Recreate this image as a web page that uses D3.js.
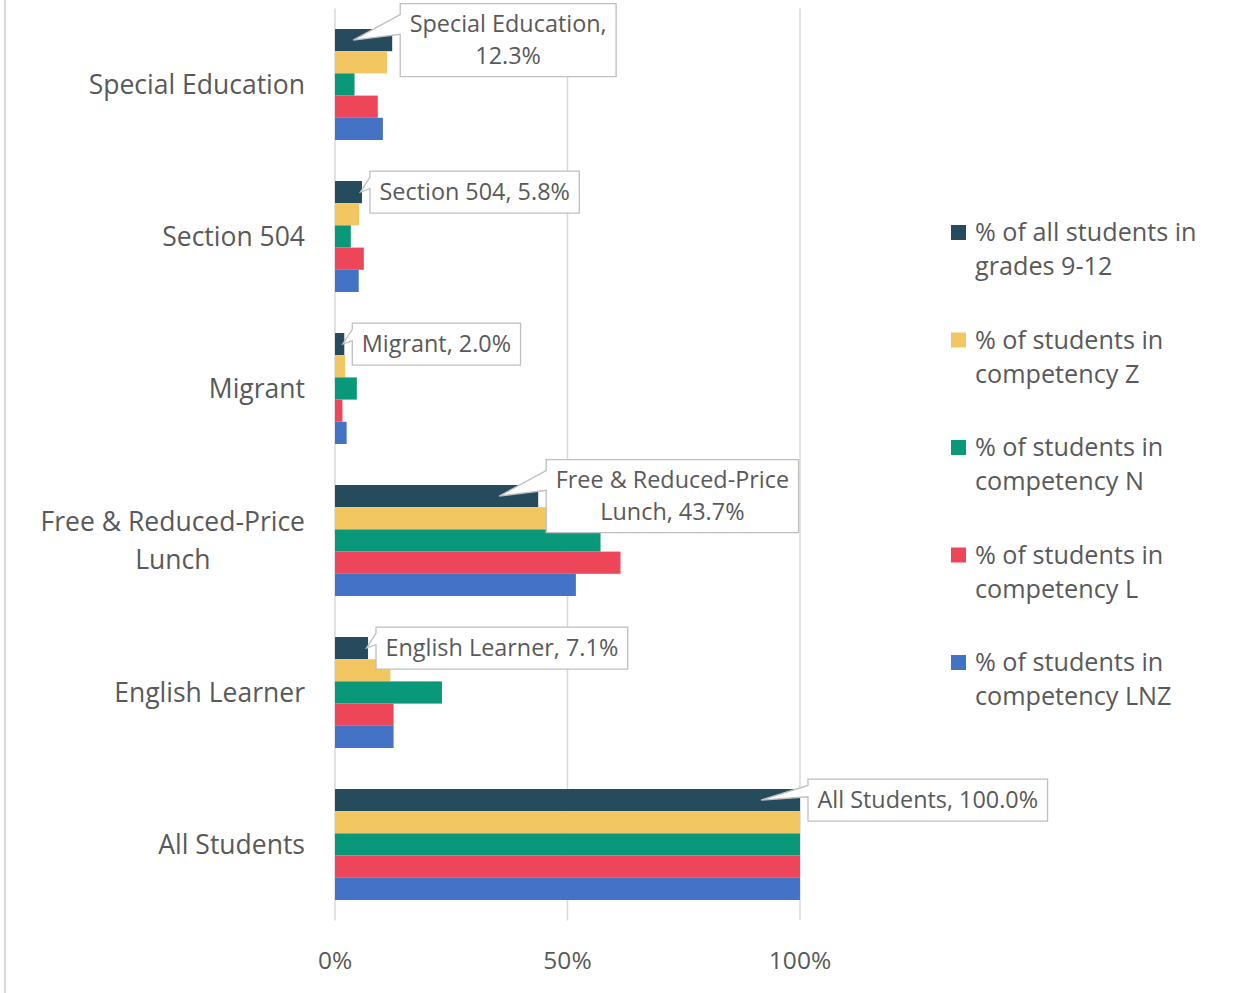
<!DOCTYPE html>
<html>
<head>
<meta charset="utf-8">
<script src="https://cdn.jsdelivr.net/npm/d3@7"></script>
<style>
  body { margin: 0; background: #fff; }
  svg { display: block; font-family: "Open Sans", "Noto Sans", sans-serif; }
</style>
</head>
<body>
<div id="chart"></div>
<script>
// categories (top to bottom) and series
const categories = ["Special Education", "Section 504", "Migrant",
  "Free & Reduced-Price Lunch", "English Learner", "All Students"];
const seriesNames = ["% of all students in grades 9-12", "% of students in competency Z",
  "% of students in competency N", "% of students in competency L",
  "% of students in competency LNZ"];
const seriesColors = ["#264B5D", "#F2C661", "#0A987A", "#EE4659", "#4472C4"];

const allGrades = [12.3, 5.8, 2.0, 43.7, 7.1, 100.0];
const compZ     = [11.2, 5.2, 2.2, 47.5, 11.9, 100.0];
const compN     = [4.2, 3.4, 4.7, 57.1, 23.0, 100.0];
const compL     = [9.2, 6.2, 1.6, 61.4, 12.6, 100.0];
const compLNZ   = [10.3, 5.1, 2.5, 51.8, 12.6, 100.0];
const xTicks = [0, 50, 100];

const seriesValues = [allGrades, compZ, compN, compL, compLNZ];

const W = 1253, H = 993;
const margin = { top: 8.5, left: 335, right: 453, bottom: 72.5 };
const width = W - margin.left - margin.right;   // 465
const height = H - margin.top - margin.bottom;  // 912
const textColor = "#595959";

const svg = d3.select("#chart").append("svg")
  .attr("width", W).attr("height", H);

// chart border (only left edge visible)
svg.append("line")
  .attr("x1", 5).attr("x2", 5).attr("y1", 0).attr("y2", H)
  .attr("stroke", "#d9d9d9").attr("stroke-width", 2);

const g = svg.append("g").attr("transform", `translate(${margin.left},${margin.top})`);

const x = d3.scaleLinear().domain([0, 100]).range([0, width]);
const y = d3.scaleBand().domain(categories).range([0, height])
  .paddingInner(0.27).paddingOuter(0.135);
const yInner = d3.scaleBand().domain(seriesNames).range([0, y.bandwidth()]);

// gridlines
g.append("g").selectAll("line").data(xTicks).join("line")
  .attr("x1", d => x(d)).attr("x2", d => x(d))
  .attr("y1", 0).attr("y2", height)
  .attr("stroke", "#d9d9d9").attr("stroke-width", 1.5);

// tick labels
g.append("g").selectAll("text").data(xTicks).join("text")
  .attr("x", d => x(d)).attr("y", height + 42)
  .attr("text-anchor", "middle").attr("dominant-baseline", "middle")
  .attr("fill", textColor).style("font-size", "24.5px")
  .text(d => d + "%");

// bars
const groups = g.selectAll(".grp").data(categories).join("g")
  .attr("class", "grp")
  .attr("transform", c => `translate(0,${y(c)})`);

groups.selectAll("rect")
  .data((c, i) => seriesNames.map((s, k) => ({ s, k, v: seriesValues[k][i] })))
  .join("rect")
  .attr("x", 0)
  .attr("y", d => yInner(d.s))
  .attr("width", d => x(d.v))
  .attr("height", yInner.bandwidth())
  .attr("fill", d => seriesColors[d.k]);

// wrap helper: greedy by word
function wrapWords(text, maxW, fontSize) {
  const tmp = svg.append("text").style("font-size", fontSize + "px");
  const words = text.split(" ");
  const lines = [];
  let cur = "";
  words.forEach(w => {
    const trial = cur ? cur + " " + w : w;
    tmp.text(trial);
    if (tmp.node().getComputedTextLength() > maxW && cur) {
      lines.push(cur);
      cur = w;
    } else cur = trial;
  });
  lines.push(cur);
  const widths = lines.map(l => { tmp.text(l); return tmp.node().getComputedTextLength(); });
  tmp.remove();
  return { lines, maxWidth: d3.max(widths) };
}

// category labels
const catFont = 26.5, catLH = 37.5;
categories.forEach(c => {
  const wr = wrapWords(c, 290, catFont);
  const cy = y(c) + y.bandwidth() / 2;
  const t = g.append("text")
    .attr("fill", textColor).style("font-size", catFont + "px")
    .attr("text-anchor", "middle");
  const cx = -30 - wr.maxWidth / 2;
  wr.lines.forEach((l, i) => {
    t.append("tspan")
      .attr("x", cx)
      .attr("y", cy + (i - (wr.lines.length - 1) / 2) * catLH)
      .attr("dy", "0.35em")
      .text(l);
  });
});

// data callouts for first series
const lblFont = 23.4, lblLH = 32, padX = 9.5;
categories.forEach((c, i) => {
  const v = allGrades[i];
  const label = `${c}, ${v.toFixed(1)}%`;
  const wr = wrapWords(label, 252, lblFont);
  const end = x(v);
  const cy = y(c) + yInner(seriesNames[0]) + yInner.bandwidth() / 2;
  const bw = wr.maxWidth + padX * 2;
  const bh = wr.lines.length === 1 ? 42 : 73;
  const left = end + 8, top = cy - bh / 2, right = left + bw, bottom = top + bh;
  const tipX = (end > 45) ? end - 39 : end - 1.5;
  const wTop = top + bh * 0.15, wBot = top + bh * 0.42;
  const path = `M${left},${top}H${right}V${bottom}H${left}V${wBot}L${tipX},${cy}L${left},${wTop}Z`;
  g.append("path").attr("d", path)
    .attr("fill", "#fff").attr("stroke", "#bfbfbf").attr("stroke-width", 1.3);
  const t = g.append("text").attr("fill", textColor)
    .style("font-size", lblFont + "px").attr("text-anchor", "middle");
  wr.lines.forEach((l, k) => {
    t.append("tspan")
      .attr("x", left + bw / 2)
      .attr("y", cy + (k - (wr.lines.length - 1) / 2) * lblLH)
      .attr("dy", "0.35em")
      .text(l);
  });
});

// legend
const legend = svg.append("g").attr("transform", "translate(951,225)");
const legFont = 25.2, legLH = 34, legStep = 107.5;
seriesNames.forEach((s, i) => {
  const gy = i * legStep;
  legend.append("rect")
    .attr("x", 0).attr("y", gy).attr("width", 15).attr("height", 15)
    .attr("fill", seriesColors[i]);
  const wr = wrapWords(s, 235, legFont);
  const t = legend.append("text").attr("fill", textColor).style("font-size", legFont + "px");
  wr.lines.forEach((l, k) => {
    t.append("tspan").attr("x", 24).attr("y", gy + 16 + k * legLH).text(l);
  });
});
</script>
</body>
</html>
